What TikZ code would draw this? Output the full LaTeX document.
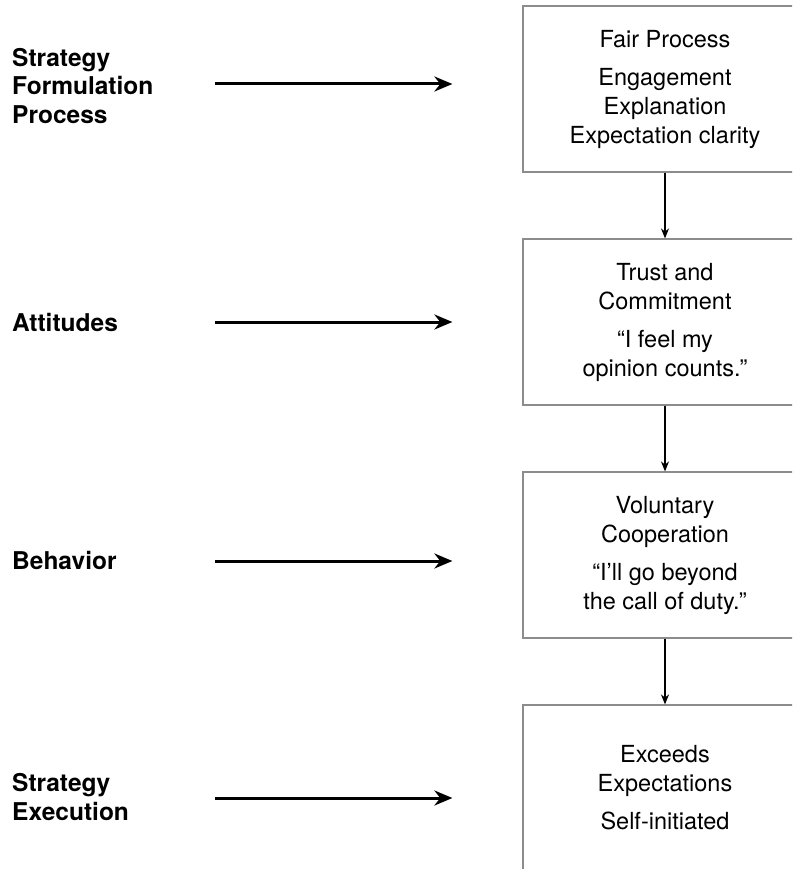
\documentclass[tikz,border=0pt]{standalone}
\usepackage{fontspec}
\setmainfont{TeX Gyre Heros}
\usetikzlibrary{arrows.meta}

\tikzset{
	stage/.style={draw=black!45, line width=1.2pt, minimum width=284pt, minimum height=166pt, inner sep=0pt, align=center, font=\fontsize{23.5}{29}\selectfont},
	side/.style={anchor=west, align=left, inner sep=0pt, font=\bfseries\fontsize{24.5}{28.5}\selectfont},
	link/.style={line width=3pt, -{Stealth[length=18pt,width=15pt]}},
	down/.style={line width=1.3pt, -{Stealth[length=10pt,width=8pt]}}
}

\begin{document}
\begin{tikzpicture}[x=1pt,y=-1pt]
	
	\clip (0,0) rectangle (792,869);
	
	% stages
	\node[stage] (fair) at (665,89) {Fair Process\\[9pt] Engagement\\ Explanation\\ Expectation clarity};
	\node[stage] (trust) at (665,322) {Trust and\\ Commitment\\[9pt] ``I feel my\\ opinion counts.''};
	\node[stage] (coop) at (665,555) {Voluntary\\ Cooperation\\[9pt] ``I'll go beyond\\ the call of duty.''};
	\node[stage] (exceed) at (665,788) {Exceeds\\ Expectations\\[9pt] Self-initiated};
	
	\draw[down] (fair) -- (trust);
	\draw[down] (trust) -- (coop);
	\draw[down] (coop) -- (exceed);
	
	% phases
	\node[side] (formul) at (12,86) {Strategy\\ Formulation\\ Process};
	\node[side] (attit) at (12,322) {Attitudes};
	\node[side] (behav) at (12,560) {Behavior};
	\node[side] (exec) at (12,797) {Strategy\\ Execution};
	
	\coordinate (a1) at (215,84);
	\coordinate (a2) at (215,322);
	\coordinate (a3) at (215,561);
	\coordinate (a4) at (215,798);
	\draw[link] (a1) -- ([xshift=-70pt]fair.west |- a1);
	\draw[link] (a2) -- ([xshift=-70pt]trust.west |- a2);
	\draw[link] (a3) -- ([xshift=-70pt]coop.west |- a3);
	\draw[link] (a4) -- ([xshift=-70pt]exceed.west |- a4);
	
\end{tikzpicture}
\end{document}
